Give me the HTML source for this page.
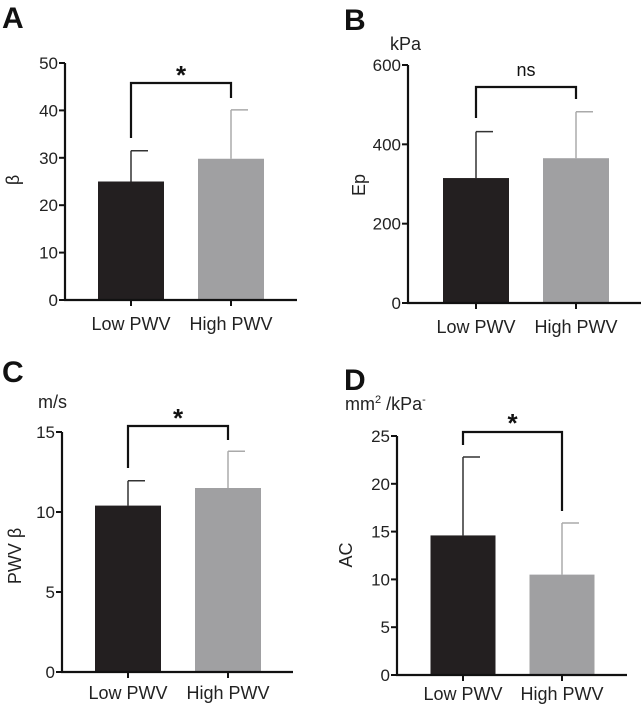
<!DOCTYPE html>
<html><head><meta charset="utf-8"><style>
html,body{margin:0;padding:0;background:#fff;}
svg{display:block;font-family:"Liberation Sans",Arial,sans-serif;}
</style></head><body>
<svg id="fig" width="643" height="706" viewBox="0 0 643 706" xmlns="http://www.w3.org/2000/svg"></svg>
<script>
// Panel data (estimated from reference)
const categories = ["Low PWV", "High PWV"];
const betaMeans = [25, 29.8];
const betaErrs = [31.5, 40.1];
const betaTicks = [0, 10, 20, 30, 40, 50];
const epMeans = [315, 365];
const epErrs = [432, 482];
const epTicks = [0, 200, 400, 600];
const pwvMeans = [10.4, 11.5];
const pwvErrs = [11.95, 13.8];
const pwvTicks = [0, 5, 10, 15];
const acMeans = [14.6, 10.5];
const acErrs = [22.8, 15.9];
const acTicks = [0, 5, 10, 15, 20, 25];

const NS = "http://www.w3.org/2000/svg";
const svg = document.getElementById('fig');
function el(tag, attrs, parent, text){
  const e = document.createElementNS(NS, tag);
  for (const k in attrs) e.setAttribute(k, attrs[k]);
  if (text !== undefined) e.textContent = text;
  (parent || svg).appendChild(e);
  return e;
}
const barColors = ["#231f20", "#a0a0a2"];
const errColors = ["#333333", "#aaaaaa"];

function panel(p){
  const g = el('g', {});
  
  
  const ymax = p.ticks[p.ticks.length - 1];
  const y = v => p.y0 - (v / ymax) * (p.y0 - p.ytop);
  const L = el('text', {x: p.lx, y: p.ly, 'font-size': 30, 'font-weight': 'bold', fill: '#111'}, g, p.id);
  
  
  p.means.forEach((m, i) => {
    const cx = p.cx[i];
    const e = el('line', {x1: cx, x2: cx, y1: y(m), y2: y(p.errs[i]), stroke: errColors[i], 'stroke-width': 1.5}, g);
    
    
    const c = el('line', {x1: cx, x2: cx + 17, y1: y(p.errs[i]), y2: y(p.errs[i]), stroke: errColors[i], 'stroke-width': 1.5}, g);
    
    
    const b = el('rect', {x: cx - p.bw / 2, y: y(m), width: p.bw, height: p.y0 - y(m), fill: barColors[i]}, g);
    
    
  });
  const ya = el('line', {x1: p.ax, x2: p.ax, y1: p.ytop, y2: p.y0 + 1, stroke: '#111', 'stroke-width': 2.2}, g);
  
  
  const xa = el('line', {x1: p.ax - 1, x2: p.axEnd, y1: p.y0, y2: p.y0, stroke: '#111', 'stroke-width': 2.2}, g);
  
  
  p.ticks.forEach(t => {
    el('line', {x1: p.ax - 6, x2: p.ax, y1: y(t), y2: y(t), stroke: '#111', 'stroke-width': 2}, g);
    const tl = el('text', {x: p.ax - 7, y: y(t) + 6, 'font-size': 17, 'text-anchor': 'end', fill: '#222'}, g, t);
    
    
  });
  categories.forEach((c, i) => {
    el('line', {x1: p.cx[i], x2: p.cx[i], y1: p.y0, y2: p.y0 + 6, stroke: '#111', 'stroke-width': 2}, g);
    const xl = el('text', {x: p.cx[i], y: p.y0 + p.xlo, 'font-size': 18, 'text-anchor': 'middle', fill: '#222'}, g, c);
    
    
  });
  const yt = el('text', {x: 0, y: 0, 'font-size': 18, 'text-anchor': 'middle', fill: '#222',
    transform: 'translate(' + p.ytx + ',' + p.yty + ') rotate(-90)'}, g, p.ytitle);
  
  
  if (p.unit) {
    const u = el('text', {x: p.ux, y: p.uy, 'font-size': 18, fill: '#222'}, g);
    
    
    u.innerHTML = p.unit;
  }
  const br = el('path', {d: 'M' + p.cx[0] + ',' + p.bl + ' V' + p.by + ' H' + p.cx[1] + ' V' + p.brr,
    fill: 'none', stroke: '#111', 'stroke-width': 2.2}, g);
  
  
  const s = el('text', {x: (p.cx[0] + p.cx[1]) / 2, y: p.sy, 'font-size': p.sig === '*' ? 26 : 18,
    'font-weight': p.sig === '*' ? 'bold' : 'normal', 'text-anchor': 'middle', fill: '#111'}, g, p.sig);
  
  
}

panel({id: 'A', means: betaMeans, errs: betaErrs, ticks: betaTicks, ax: 65, axEnd: 297, ytop: 63, y0: 300,
  cx: [131, 231], bw: 66, lx: 2, ly: 28, ytitle: 'β', ytx: 19, yty: 180, xlo: 30,
  by: 83, bl: 138, brr: 98, sig: '*', sy: 84});
panel({id: 'B', means: epMeans, errs: epErrs, ticks: epTicks, ax: 408, axEnd: 641, ytop: 65, y0: 303,
  cx: [476, 576], bw: 66, lx: 344, ly: 30, ytitle: 'Ep', ytx: 365, yty: 185, unit: 'kPa', ux: 390, uy: 50, xlo: 30,
  by: 87, bl: 118, brr: 99, sig: 'ns', sy: 76});
panel({id: 'C', means: pwvMeans, errs: pwvErrs, ticks: pwvTicks, ax: 62, axEnd: 293, ytop: 432, y0: 672,
  cx: [128, 228], bw: 66, lx: 2, ly: 382, ytitle: 'PWV β', ytx: 21, yty: 556, unit: 'm/s', ux: 38, uy: 408, xlo: 27,
  by: 426, bl: 468, brr: 440, sig: '*', sy: 427});
panel({id: 'D', means: acMeans, errs: acErrs, ticks: acTicks, ax: 397, axEnd: 627, ytop: 436, y0: 675,
  cx: [463, 562], bw: 65, lx: 344, ly: 390, ytitle: 'AC', ytx: 352, yty: 555, xlo: 25,
  unit: 'mm<tspan font-size="11" dy="-7">2</tspan><tspan dy="7"> /kPa</tspan><tspan font-size="11" dy="-7">-</tspan>', ux: 345, uy: 410,
  by: 432, bl: 445, brr: 511, sig: '*', sy: 432});
</script>
</body></html>
